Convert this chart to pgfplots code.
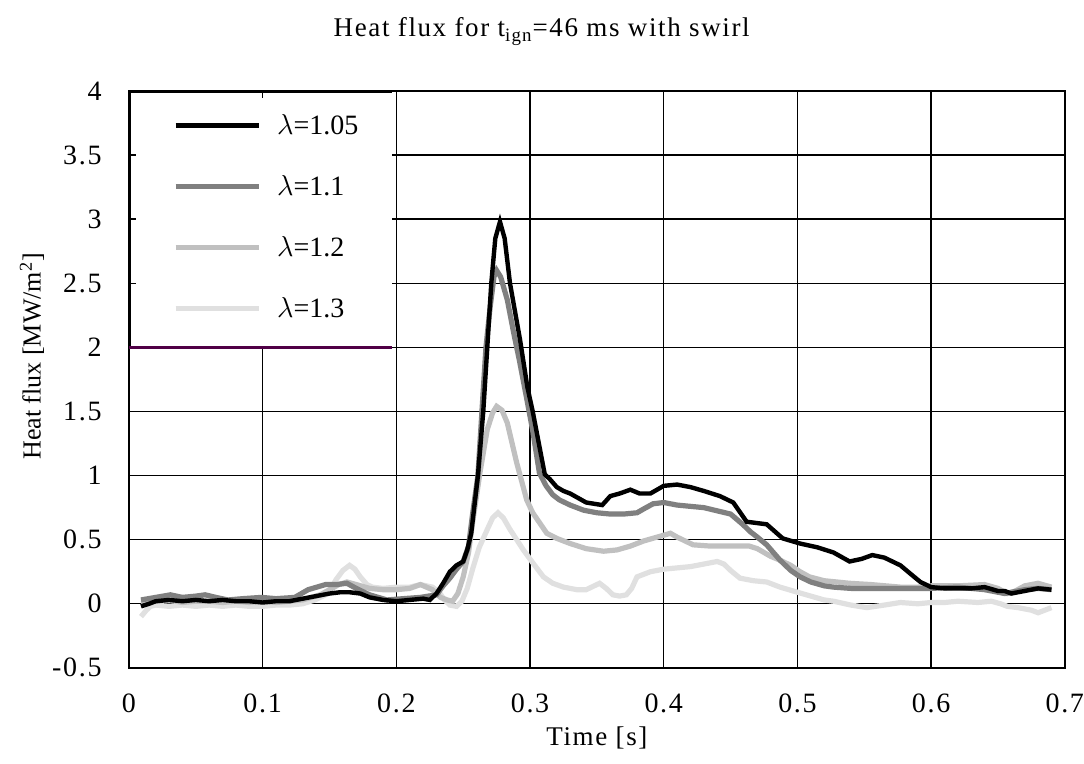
\documentclass[border=0pt]{standalone}
\usepackage{fontspec}
\setmainfont{Liberation Serif}
\newfontfamily\widefont[LetterSpace=6]{Liberation Serif}
\usepackage{pgfplots}
\pgfplotsset{compat=1.18}

\definecolor{lamA}{HTML}{000000}
\definecolor{lamB}{HTML}{808080}
\definecolor{lamC}{HTML}{C0C0C0}
\definecolor{lamD}{HTML}{E0E0E0}
\definecolor{legline}{HTML}{500046}

\begin{document}
\begin{tikzpicture}
\begin{axis}[
    scale only axis,
    width=468pt, height=288.5pt,
    xmin=0, xmax=0.7, ymin=-0.5, ymax=4,
    xtick={0,0.1,0.2,0.3,0.4,0.5,0.6,0.7},
    ytick={-0.5,0,0.5,1,1.5,2,2.5,3,3.5,4},
    grid=major,
    grid style={black, line width=0.7pt},
    axis line style={line width=1pt},
    major tick length=3.5pt,
    tick style={black, line width=0.7pt},
    /pgf/number format/assume math mode=true,
    ticklabel style={font=\widefont\fontsize{14}{16}\selectfont},
    xticklabel style={anchor=north, inner sep=0pt, yshift=-13pt},
    yticklabel style={anchor=east, inner sep=0pt, xshift=-13.5pt},
    title={Heat flux for t\textsubscript{ign}=46 ms with swirl},
    title style={font=\widefont\fontsize{13.5}{16}\selectfont,
        at={(axis description cs:0.441,1.082)}, anchor=center,
        yshift=0pt, inner sep=0pt},
    xlabel={Time [s]},
    xlabel style={font=\widefont\fontsize{13.5}{16}\selectfont,
        at={(axis description cs:0.5,-0.1213)}, anchor=center},
    ylabel={Heat flux [MW/m\textsuperscript{2}]},
    ylabel style={font=\fontsize{13}{15}\selectfont,
        at={(axis description cs:-0.1036,0.54)}, anchor=center},
    reverse legend,
    legend image code/.code={\draw[#1] (0pt,0pt) -- (41.5pt,0pt);},
    legend style={
        at={(axis description cs:0,1)}, anchor=north west,
        xshift=22pt, yshift=-12.5pt,
        draw=none, fill=none, inner sep=0pt, outer sep=0pt,
        font=\fontsize{14}{16}\selectfont,
        row sep=21pt, column sep=8pt,
        nodes={inner sep=0pt, text height=9.5pt, text depth=0pt},
        legend cell align=left
    }
]

% lambda = 1.3
\addplot[lamD, line width=2.6pt] coordinates {
    (0.009,-0.10) (0.013,-0.05) (0.016,-0.02) (0.02,-0.01) (0.03,-0.02)
    (0.04,-0.01) (0.05,-0.02) (0.06,-0.01) (0.07,-0.02) (0.08,-0.01)
    (0.09,-0.02) (0.10,-0.02) (0.11,-0.01) (0.12,-0.01) (0.13,0.00)
    (0.139,0.03) (0.149,0.08) (0.155,0.19) (0.16,0.26) (0.165,0.30)
    (0.169,0.27) (0.173,0.21) (0.178,0.15) (0.182,0.13) (0.19,0.12)
    (0.20,0.13) (0.21,0.13) (0.218,0.15) (0.227,0.13) (0.232,0.09)
    (0.236,0.03) (0.24,-0.01) (0.245,-0.02) (0.249,0.02) (0.253,0.12)
    (0.257,0.27) (0.262,0.44) (0.268,0.58) (0.272,0.67) (0.276,0.71)
    (0.28,0.67) (0.285,0.58) (0.29,0.50) (0.295,0.42) (0.302,0.32)
    (0.31,0.21) (0.317,0.16) (0.325,0.13) (0.335,0.11) (0.342,0.11)
    (0.348,0.14) (0.352,0.16) (0.357,0.12) (0.362,0.07) (0.367,0.06)
    (0.372,0.07) (0.376,0.12) (0.38,0.21) (0.39,0.25) (0.40,0.27)
    (0.41,0.28) (0.42,0.29) (0.43,0.31) (0.44,0.33) (0.445,0.31)
    (0.45,0.26) (0.457,0.20) (0.467,0.18) (0.477,0.17) (0.487,0.13)
    (0.50,0.09) (0.51,0.06) (0.52,0.03) (0.527,0.02) (0.54,-0.01)
    (0.552,-0.03) (0.565,-0.01) (0.577,0.01) (0.59,0.00) (0.60,0.01)
    (0.61,0.01) (0.62,0.02) (0.635,0.01) (0.645,0.02) (0.652,0.00)
    (0.657,-0.02) (0.665,-0.03) (0.675,-0.05) (0.68,-0.07) (0.685,-0.05)
    (0.69,-0.03)
};
\addlegendentry{$\lambda$=1.3}

% lambda = 1.2
\addplot[lamC, line width=2.6pt] coordinates {
    (0.009,0.01) (0.02,0.02) (0.03,0.03) (0.04,0.01) (0.05,0.02)
    (0.06,0.02) (0.07,0.01) (0.08,0.02) (0.09,0.01) (0.10,0.02)
    (0.11,0.01) (0.12,0.02) (0.13,0.03) (0.143,0.07) (0.15,0.11)
    (0.157,0.15) (0.163,0.17) (0.17,0.15) (0.18,0.12) (0.19,0.11)
    (0.20,0.11) (0.21,0.12) (0.218,0.15) (0.227,0.11) (0.233,0.05)
    (0.238,0.03) (0.242,0.02) (0.246,0.08) (0.25,0.21) (0.254,0.40)
    (0.257,0.63) (0.2625,1.02) (0.268,1.36) (0.272,1.49) (0.275,1.54)
    (0.279,1.51) (0.283,1.41) (0.29,1.10) (0.2975,0.81) (0.302,0.71)
    (0.3125,0.55) (0.32,0.51) (0.33,0.47) (0.342,0.43) (0.355,0.41)
    (0.365,0.42) (0.375,0.45) (0.385,0.49) (0.395,0.52) (0.405,0.55)
    (0.41,0.52) (0.422,0.46) (0.435,0.45) (0.445,0.45) (0.455,0.45)
    (0.464,0.45) (0.47,0.43) (0.48,0.37) (0.487,0.34) (0.495,0.30)
    (0.502,0.25) (0.509,0.21) (0.52,0.18) (0.539,0.16) (0.555,0.15)
    (0.577,0.13) (0.59,0.13) (0.60,0.14) (0.62,0.14) (0.64,0.15)
    (0.65,0.12) (0.657,0.08) (0.663,0.10) (0.67,0.14) (0.68,0.16)
    (0.69,0.13)
};
\addlegendentry{$\lambda$=1.2}

% lambda = 1.1
\addplot[lamB, line width=2.6pt] coordinates {
    (0.009,0.03) (0.02,0.05) (0.031,0.07) (0.04,0.05) (0.05,0.06)
    (0.057,0.07) (0.065,0.05) (0.074,0.03) (0.085,0.04) (0.099,0.05)
    (0.11,0.04) (0.124,0.05) (0.134,0.11) (0.147,0.15) (0.155,0.15)
    (0.163,0.16) (0.17,0.12) (0.18,0.07) (0.193,0.03) (0.205,0.04)
    (0.218,0.05) (0.23,0.07) (0.235,0.14) (0.24,0.20) (0.245,0.27)
    (0.25,0.33) (0.254,0.45) (0.257,0.70) (0.261,1.00) (0.264,1.50)
    (0.267,2.00) (0.27,2.30) (0.273,2.55) (0.275,2.60) (0.278,2.55)
    (0.283,2.37) (0.288,2.10) (0.292,1.90) (0.2975,1.60) (0.302,1.35)
    (0.307,1.02) (0.312,0.92) (0.317,0.85) (0.322,0.81) (0.33,0.77)
    (0.34,0.73) (0.35,0.71) (0.36,0.70) (0.37,0.70) (0.38,0.71)
    (0.385,0.74) (0.392,0.78) (0.40,0.79) (0.41,0.77) (0.42,0.76)
    (0.43,0.75) (0.442,0.72) (0.45,0.70) (0.459,0.62) (0.465,0.56)
    (0.47,0.52) (0.477,0.46) (0.487,0.34) (0.495,0.26) (0.502,0.21)
    (0.51,0.17) (0.52,0.14) (0.527,0.13) (0.54,0.12) (0.56,0.12)
    (0.58,0.12) (0.60,0.12) (0.62,0.13) (0.64,0.11) (0.65,0.09)
    (0.655,0.08) (0.66,0.09) (0.67,0.11) (0.68,0.12) (0.69,0.11)
};
\addlegendentry{$\lambda$=1.1}

% lambda = 1.05
\addplot[lamA, line width=2.2pt] coordinates {
    (0.009,-0.02) (0.015,0.00) (0.02,0.02) (0.03,0.03) (0.04,0.02)
    (0.05,0.03) (0.06,0.02) (0.07,0.03) (0.08,0.02) (0.09,0.02)
    (0.10,0.01) (0.11,0.02) (0.12,0.02) (0.13,0.04) (0.14,0.06)
    (0.15,0.08) (0.158,0.09) (0.165,0.09) (0.173,0.08) (0.18,0.05)
    (0.19,0.03) (0.20,0.02) (0.21,0.03) (0.22,0.04) (0.225,0.03)
    (0.23,0.08) (0.235,0.16) (0.24,0.25) (0.245,0.30) (0.25,0.33)
    (0.253,0.42) (0.256,0.55) (0.261,1.00) (0.265,1.50) (0.268,2.00)
    (0.271,2.50) (0.274,2.85) (0.2775,2.98) (0.281,2.85) (0.285,2.50)
    (0.2925,2.06) (0.298,1.69) (0.302,1.50) (0.311,1.01) (0.315,0.97)
    (0.32,0.91) (0.325,0.88) (0.33,0.86) (0.342,0.79) (0.354,0.77)
    (0.36,0.84) (0.367,0.86) (0.375,0.89) (0.382,0.86) (0.39,0.86)
    (0.40,0.92) (0.41,0.93) (0.42,0.91) (0.43,0.88) (0.442,0.84)
    (0.452,0.79) (0.462,0.64) (0.477,0.62) (0.489,0.51) (0.502,0.47)
    (0.515,0.44) (0.527,0.40) (0.539,0.33) (0.548,0.35) (0.556,0.38)
    (0.565,0.36) (0.577,0.30) (0.585,0.23) (0.592,0.17) (0.60,0.13)
    (0.61,0.12) (0.62,0.12) (0.63,0.12) (0.64,0.13) (0.65,0.10)
    (0.655,0.10) (0.66,0.08) (0.67,0.10) (0.68,0.12) (0.69,0.11)
};
\addlegendentry{$\lambda$=1.05}

% white legend panel over the grid, with its dark bottom rule
\fill[white] (axis cs:0,2) rectangle (axis cs:0.1967,4);
\draw[line width=2pt] (axis cs:0,2) -- (axis cs:0,4) -- (axis cs:0.1967,4);
\draw[line width=0.7pt] (axis cs:0,2.5) -- ++(3.5pt,0pt);
\draw[line width=0.7pt] (axis cs:0,3) -- ++(3.5pt,0pt);
\draw[line width=0.7pt] (axis cs:0,3.5) -- ++(3.5pt,0pt);
\draw[line width=0.7pt] (axis cs:0.1,4) -- ++(0pt,-3.5pt);
\draw[legline, line width=1.2pt] (axis cs:0,2) -- (axis cs:0.1967,2);
\end{axis}
\path (current axis.south west) ++(-64.5pt,-48pt) coordinate (bbA);
\path (current axis.north east) ++(9.5pt,45.5pt) coordinate (bbB);
\useasboundingbox (bbA) rectangle (bbB);
\end{tikzpicture}
\end{document}
